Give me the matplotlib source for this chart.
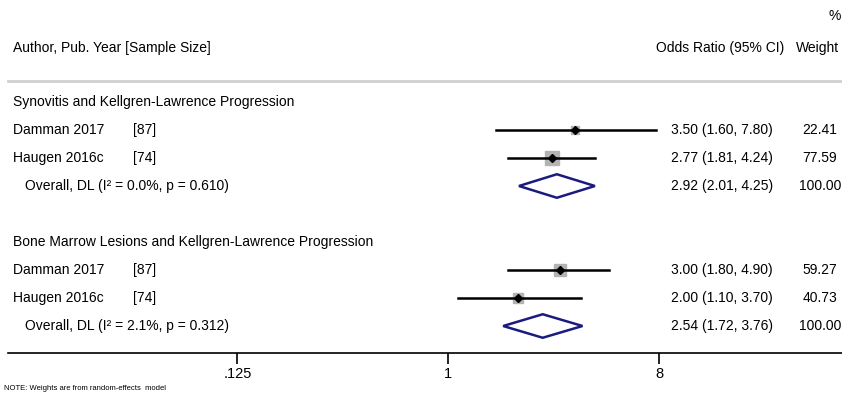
import numpy as np
import matplotlib.pyplot as plt
from matplotlib.ticker import FixedLocator, FixedFormatter

plt.rcParams['font.family'] = ['Liberation Sans', 'DejaVu Sans']

# Data
groups = ['Synovitis and Kellgren-Lawrence Progression',
          'Bone Marrow Lesions and Kellgren-Lawrence Progression']
studies = [['Damman 2017', 'Haugen 2016c'], ['Damman 2017', 'Haugen 2016c']]
sizes = [['[87]', '[74]'], ['[87]', '[74]']]
odds = [[3.50, 2.77], [3.00, 2.00]]
lower = [[1.60, 1.81], [1.80, 1.10]]
upper = [[7.80, 4.24], [4.90, 3.70]]
weights = [[22.41, 77.59], [59.27, 40.73]]
pooled_or = [2.92, 2.54]
pooled_lo = [2.01, 1.72]
pooled_hi = [4.25, 3.76]
pooled_lbl = ['Overall, DL (I\u00b2 = 0.0%, p = 0.610)',
              'Overall, DL (I\u00b2 = 2.1%, p = 0.312)']
ticks = [0.125, 1, 8]
tick_labels = ['.125', '1', '8']

W, H = 842, 394
fig = plt.figure(figsize=(W / 100, H / 100), dpi=100)
# axes: from x=8px to right edge, from top down to the axis line at 353px
ax = fig.add_axes([8 / W, (H - 353) / H, (W - 8) / W, 353 / H])
ax.set_xscale('log', base=2)
px_per = 70.28
x1 = 448.2
ax.set_xlim(2 ** ((8 - x1) / px_per), 2 ** ((W - x1) / px_per))
row0 = 102
rh = 28
ax.set_ylim((353 - row0) / rh, -row0 / rh)

for s in ['top', 'right', 'left']:
    ax.spines[s].set_visible(False)
ax.spines['bottom'].set_linewidth(1.2)
ax.yaxis.set_visible(False)
ax.xaxis.set_major_locator(FixedLocator(ticks))
ax.xaxis.set_major_formatter(FixedFormatter(tick_labels))
ax.xaxis.set_minor_locator(FixedLocator([]))
ax.tick_params(axis='x', length=8, width=1.2, labelsize=10.5, pad=2)

tr = ax.get_yaxis_transform()  # x in axes fraction, y in data
def fx(px):
    return (px - 8) / (W - 8)

fs = 10
# header
ax.text(fx(835), -3.07, '%', ha='center', va='center', fontsize=fs, transform=tr, clip_on=False)
ax.text(fx(13), -1.93, 'Author, Pub. Year [Sample Size]', ha='left', va='center', fontsize=fs, transform=tr)
ax.text(fx(720), -1.93, 'Odds Ratio (95% CI)', ha='center', va='center', fontsize=fs, transform=tr)
ax.text(fx(818), -1.93, 'Weight', ha='center', va='center', fontsize=fs, transform=tr)
ax.plot([0, 1], [-0.75, -0.75], transform=tr, color='#d0d0d0', lw=2, clip_on=False)

row = 0
for g in range(len(groups)):
    ax.text(fx(13), row, groups[g], ha='left', va='center', fontsize=fs, transform=tr)
    row += 1
    for i in range(len(studies[g])):
        ax.text(fx(13), row, studies[g][i], ha='left', va='center', fontsize=fs, transform=tr)
        ax.text(fx(133), row, sizes[g][i], ha='left', va='center', fontsize=fs, transform=tr)
        ax.plot([lower[g][i], upper[g][i]], [row, row], color='black', lw=1.8, zorder=2)
        ax.plot(odds[g][i], row, marker='s', ms=1.17 * np.sqrt(weights[g][i]),
                color='#b3b3b3', mec='#b3b3b3', zorder=1)
        ax.plot(odds[g][i], row, marker='D', ms=4.5, color='black', zorder=3)
        ax.text(fx(722), row, '%.2f (%.2f, %.2f)' % (odds[g][i], lower[g][i], upper[g][i]),
                ha='center', va='center', fontsize=fs, transform=tr)
        ax.text(fx(820), row, '%.2f' % weights[g][i], ha='center', va='center', fontsize=fs, transform=tr)
        row += 1
    hh = 0.42
    ax.fill([pooled_lo[g], pooled_or[g], pooled_hi[g], pooled_or[g]],
            [row, row - hh, row, row + hh], facecolor='white', edgecolor='#1a1a80', lw=1.8)
    ax.text(fx(25), row, pooled_lbl[g], ha='left', va='center', fontsize=fs, transform=tr)
    ax.text(fx(722), row, '%.2f (%.2f, %.2f)' % (pooled_or[g], pooled_lo[g], pooled_hi[g]),
            ha='center', va='center', fontsize=fs, transform=tr)
    ax.text(fx(820), row, '100.00', ha='center', va='center', fontsize=fs, transform=tr)
    row += 2

fig.text(4 / W, 1 - 389 / H, 'NOTE: Weights are from random-effects  model',
         ha='left', va='center', fontsize=5.5)

fig.savefig('out.png', dpi=100)
